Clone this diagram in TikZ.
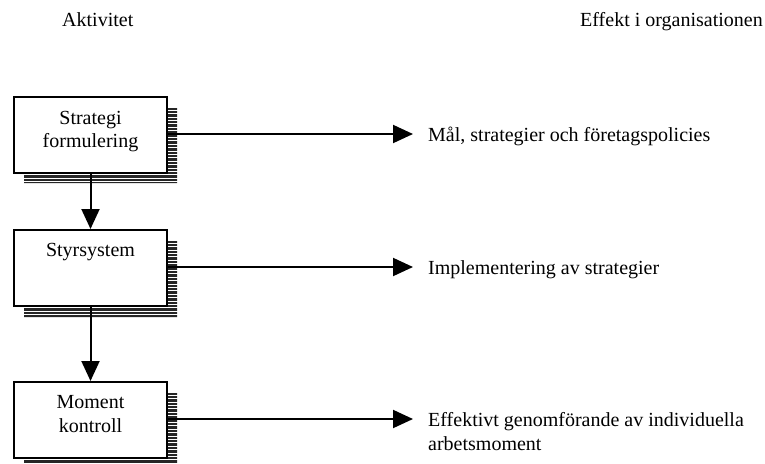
\documentclass[tikz,border=0pt]{standalone}
\usepackage{fontspec}
\setmainfont{Liberation Serif}
\usetikzlibrary{arrows.meta}
\begin{document}
\begin{tikzpicture}[x=1pt,y=-1pt,
  every node/.style={font=\fontsize{20}{23.5}\selectfont, inner sep=0pt},
  box/.style={draw, line width=2pt, fill=white, minimum width=153pt, minimum height=76pt, anchor=north west},
  boxtext/.style={align=center, anchor=north},
  effect/.style={align=left},
  flow/.style={line width=2pt, -{Triangle[length=20pt,width=18pt]}},
  shadowfill/.style={fill=black!85, draw=none},
  gap/.style={line width=0.8pt, white}]
\useasboundingbox (0,0) rectangle (765,463);

% striped drop shadow of a box: #1 left, #2 top, #3 right, #4 bottom
\newcommand{\stripeshadow}[4]{%
  \fill[shadowfill] (#3,#2+12) -- (#3+11,#2+12) -- (#3+11,#4+11)
                    -- (#1+11,#4+11) -- (#1+11,#4) -- (#3,#4) -- cycle;
  \pgfmathsetmacro{\ya}{#2+14.2}%
  \pgfmathsetmacro{\yb}{#2+17.6}%
  \pgfmathsetmacro{\ye}{#4+10}%
  \foreach \y in {\ya,\yb,...,\ye}{\draw[gap] (#1+10,\y) -- (#3+12,\y);}%
}

% column headings
\node[anchor=base west] (h1) at (62,27) {Aktivitet};
\node[anchor=base west] (h2) at (580,27) {Effekt i organisationen};

% activity boxes with shadows
\stripeshadow{13}{96}{166}{172}
\node[box] (b1) at (13,96) {};
\node[boxtext] (t1) at ([yshift=-15pt]b1.north) {Strategi\\formulering};

\stripeshadow{13}{229}{166}{306}
\node[box] (b2) at (13,229) {};
\node[boxtext] (t2) at ([yshift=-14.5pt]b2.north) {Styrsystem};

\stripeshadow{13}{381}{166}{457}
\node[box] (b3) at (13,381) {};
\node[boxtext] (t3) at ([yshift=-14.5pt]b3.north) {Moment\\kontroll};

% effects
\node[effect, anchor=base west] (e1) at (428,141) {Mål, strategier och företagspolicies};
\node[effect, anchor=base west] (e2) at (428,274) {Implementering av strategier};
\node[effect, anchor=north west] (e3) at (428,412.5) {Effektivt genomförande av individuella\\arbetsmoment};

\coordinate (p1) at (413,134);
\coordinate (p2) at (413,267);
\coordinate (p3) at (413,419);

% connectors
\draw[flow] (b1.south) -- (b2.north);
\draw[flow] (b2.south) -- (b3.north);
\draw[flow] (b1.east |- p1) -- (p1);
\draw[flow] (b2.east |- p2) -- (p2);
\draw[flow] (b3.east |- p3) -- (p3);
\end{tikzpicture}
\end{document}
